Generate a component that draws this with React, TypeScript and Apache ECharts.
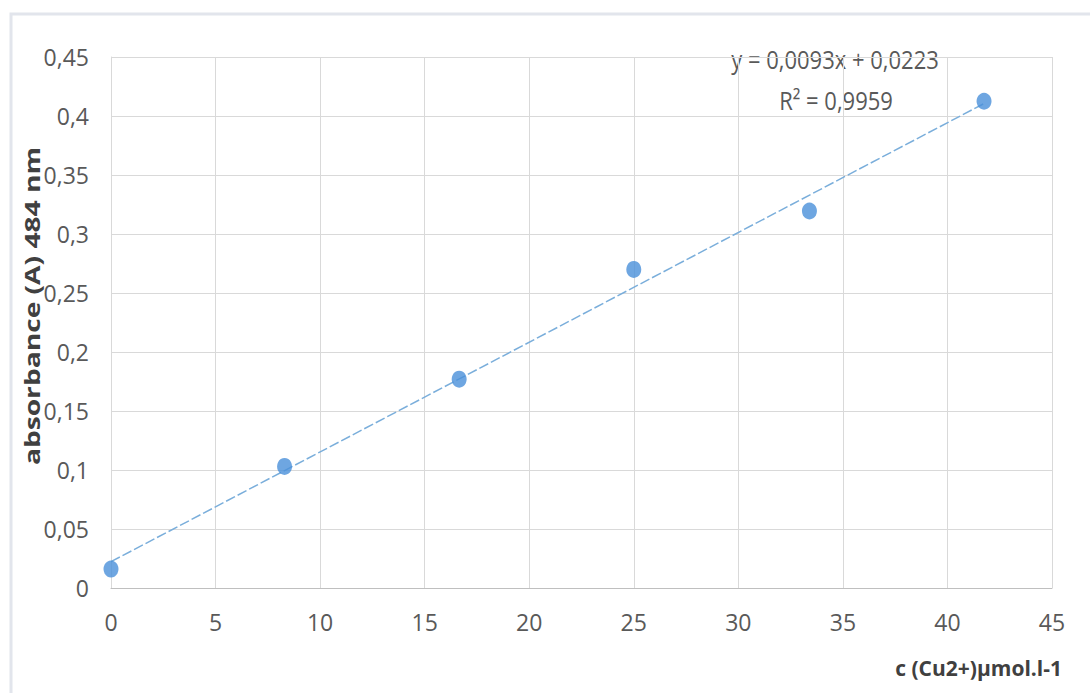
import React, { useEffect, useRef } from "react";
import * as echarts from "echarts";

const concentrations = [0, 8.3, 16.65, 25, 33.4, 41.75];
const absorbances = [0.016, 0.103, 0.177, 0.27, 0.3195, 0.4125];
const trendX = [0, 41.75];
const slope = 0.0093;
const intercept = 0.0223;
const equationLabel = "y = 0,0093x + 0,0223";
const r2Label = "R² = 0,9959";
const xTitle = "c (Cu2+)µmol.l-1";
const yTitle = "absorbance (A) 484 nm";

const fmt = (v: number) => String(+v.toFixed(2)).replace(".", ",");

export default function App() {
  const ref = useRef<HTMLDivElement>(null);
  useEffect(() => {
    const chart = echarts.init(ref.current!, null, { renderer: "svg" });
    const trend = trendX.map((x) => [x, slope * x + intercept]);
    chart.setOption({
      animation: false,
      backgroundColor: "#ffffff",
      textStyle: { fontFamily: "Open Sans" },
      grid: { left: 111, right: 38, top: 57, bottom: 105 },
      graphic: [
        {
          type: "polyline",
          shape: { points: [[11, 693], [11, 14], [1090, 14]] },
          style: { stroke: "#e2e5ec", lineWidth: 3, fill: "none" },
          silent: true,
        },
        {
          type: "text",
          x: 835,
          y: 59,
          scaleY: 1.15,
          style: {
            text: equationLabel,
            fill: "#595959",
            font: "22px 'Open Sans'",
            align: "center",
            verticalAlign: "middle",
          },
        },
        {
          type: "text",
          x: 836,
          y: 100,
          scaleY: 1.15,
          style: {
            text: r2Label,
            fill: "#595959",
            font: "22px 'Open Sans'",
            align: "center",
            verticalAlign: "middle",
          },
        },
        {
          type: "text",
          x: 1062,
          y: 668,
          style: {
            text: xTitle,
            fill: "#404040",
            font: "bold 21px 'Open Sans'",
            align: "right",
            verticalAlign: "middle",
          },
        },
        {
          type: "text",
          x: 31,
          y: 306,
          rotation: Math.PI / 2,
          scaleX: 1.28,
          style: {
            text: yTitle,
            fill: "#404040",
            font: "bold 22px 'Open Sans'",
            align: "center",
            verticalAlign: "middle",
          },
        },
      ],
      xAxis: {
        type: "value",
        min: 0,
        max: 45,
        interval: 5,
        axisLine: { show: true, lineStyle: { color: "#bfbfbf", width: 1 } },
        axisTick: { show: false },
        axisLabel: {
          color: "#595959",
          fontSize: 23,
          fontFamily: "Open Sans",
          margin: 22,
        },
        splitLine: { show: true, lineStyle: { color: "#d9d9d9", width: 1 } },
      },
      yAxis: {
        type: "value",
        min: 0,
        max: 0.45,
        interval: 0.05,
        axisLine: { show: true, lineStyle: { color: "#d9d9d9", width: 1 } },
        axisTick: { show: false },
        axisLabel: {
          color: "#595959",
          fontSize: 23,
          fontFamily: "Open Sans",
          margin: 22,
          formatter: (v: number) => fmt(v),
        },
        splitLine: { show: true, lineStyle: { color: "#d9d9d9", width: 1 } },
      },
      series: [
        {
          type: "line",
          data: trend,
          symbol: "none",
          lineStyle: { color: "#7aaedb", width: 1.5, type: [10, 3] },
          silent: true,
          z: 2,
        },
        {
          type: "scatter",
          data: concentrations.map((x, i) => [x, absorbances[i]]),
          symbol: "circle",
          symbolSize: [15, 17],
          itemStyle: { color: "#4a90d9" },
          z: 3,
        },
      ],
    });
    return () => chart.dispose();
  }, []);
  return (
    <div
      ref={ref}
      style={{ position: "fixed", left: 0, top: 0, width: 1090, height: 693 }}
    />
  );
}
